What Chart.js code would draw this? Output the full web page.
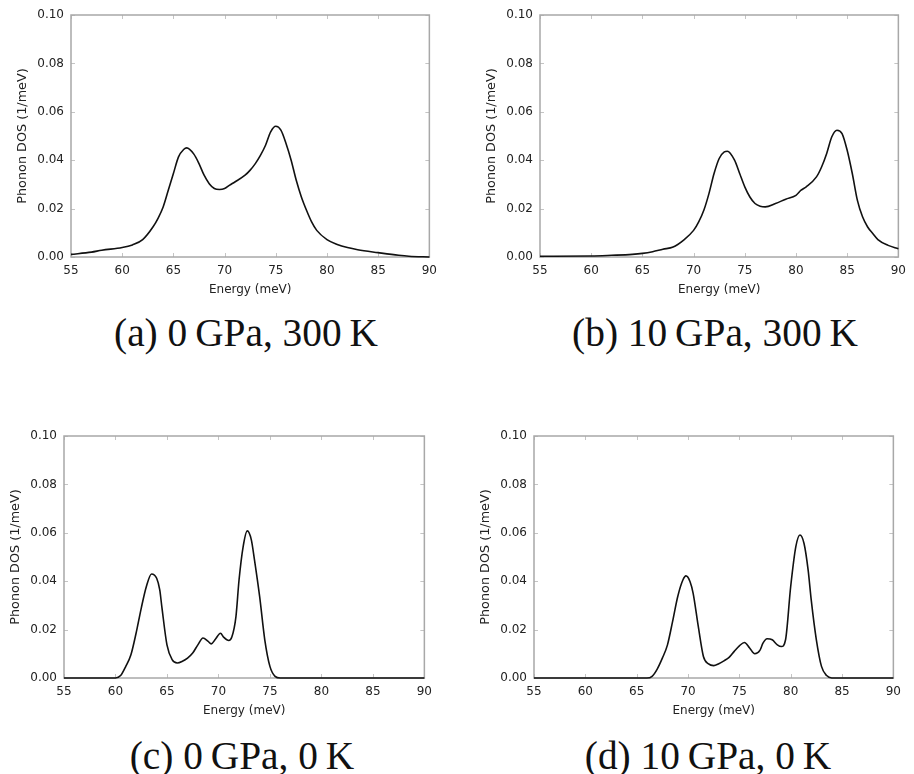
<!DOCTYPE html>
<html>
<head>
<meta charset="utf-8">
<title>Phonon DOS</title>
<script src="https://cdn.jsdelivr.net/npm/chart.js@4.4.1/dist/chart.umd.min.js"></script>
<style>
  body { margin: 0; background: #fff; width: 914px; height: 774px; position: relative; overflow: hidden; }
  canvas { position: absolute; }
  .caption {
    position: absolute; width: 400px; text-align: center; white-space: nowrap;
    font-family: "Liberation Serif", "Times New Roman", serif; font-size: 41px; line-height: 40px; color: #111;
    transform: scaleX(0.96);
  }
</style>
</head>
<body>
<canvas id="dosA" width="431" height="297" style="left:13px;top:0px"></canvas>
<canvas id="dosB" width="431" height="297" style="left:482px;top:0px"></canvas>
<canvas id="dosC" width="433" height="297" style="left:6px;top:421px"></canvas>
<canvas id="dosD" width="432" height="297" style="left:476px;top:421px"></canvas>

<div class="caption" style="left:46px;top:312px">(a) 0&thinsp;GPa, 300&thinsp;K</div>
<div class="caption" style="left:515px;top:312px">(b) 10&thinsp;GPa, 300&thinsp;K</div>
<div class="caption" style="left:42px;top:735px">(c) 0&thinsp;GPa, 0&thinsp;K</div>
<div class="caption" style="left:508px;top:735px">(d) 10&thinsp;GPa, 0&thinsp;K</div>

<script>
// axis ticks
const energyTicks = [55, 60, 65, 70, 75, 80, 85, 90];
const dosTicks = [0, 0.02, 0.04, 0.06, 0.08, 0.10];

// (a) 0 GPa, 300 K
const energyA = [55, 57, 58, 60, 61, 62, 63, 63.5, 64, 64.5, 65, 65.5, 66, 66.3, 67, 67.5, 68, 68.5, 69, 69.5,
  70, 70.5, 71, 72, 72.5, 73, 73.5, 74, 74.5, 75, 75.5, 76, 76.5, 77, 77.5, 78, 78.5, 79, 80, 81,
  82, 83, 85, 87, 88, 90];
const dosA = [0.0011, 0.002, 0.0028, 0.0039, 0.005, 0.0072, 0.0124, 0.016, 0.0207, 0.0276, 0.0345, 0.0414, 0.0444, 0.0451, 0.0425, 0.0386, 0.0338, 0.0303, 0.0283, 0.0279,
  0.0283, 0.0297, 0.031, 0.0338, 0.0359, 0.0386, 0.042, 0.0462, 0.0517, 0.054, 0.0524, 0.0469, 0.040, 0.0317, 0.0248, 0.0193, 0.0145, 0.011, 0.0072, 0.0052,
  0.0039, 0.003, 0.0018, 0.0007, 0.0003, 0.0];

// (b) 10 GPa, 300 K
const energyB = [55, 60, 62, 64, 65, 66, 67, 68, 69, 70, 70.5, 71, 71.5, 72, 72.5, 73, 73.3, 74, 74.5, 75,
  75.5, 76, 76.5, 77, 78, 79, 80, 80.5, 81, 82, 82.5, 83, 83.5, 84, 84.5, 85, 85.5, 86, 86.5, 87,
  87.5, 88, 89, 90];
const dosB = [0.0003, 0.0004, 0.0007, 0.0011, 0.0015, 0.0022, 0.0032, 0.0041, 0.0069, 0.011, 0.0145, 0.0193, 0.0262, 0.0345, 0.0407, 0.0434, 0.0437, 0.040, 0.0345, 0.029,
  0.0248, 0.0221, 0.021, 0.0207, 0.0221, 0.0239, 0.0255, 0.0276, 0.029, 0.0331, 0.0372, 0.0428, 0.0497, 0.0524, 0.051, 0.0441, 0.0345, 0.0234, 0.0166, 0.0124,
  0.0097, 0.0072, 0.0048, 0.0034];

// (c) 0 GPa, 0 K
const energyC = [55, 60, 60.5, 61, 61.5, 62, 62.5, 63, 63.5, 64, 64.3, 64.5, 65, 65.5, 66, 66.5, 67, 67.5, 68, 68.5,
  69, 69.3, 69.7, 70.2, 70.5, 71, 71.3, 71.7, 72, 72.4, 72.8, 73.2, 73.5, 74, 74.5, 75, 75.5, 76, 90];
const dosC = [0, 0, 0.001, 0.0048, 0.0096, 0.0185, 0.0288, 0.0378, 0.043, 0.0412, 0.0364, 0.0295, 0.0137, 0.0076, 0.0062, 0.0069, 0.0082, 0.0103, 0.0137, 0.0165,
  0.0151, 0.0141, 0.016, 0.0185, 0.0169, 0.0155, 0.0169, 0.0254, 0.0405, 0.0543, 0.0608, 0.057, 0.0488, 0.0337, 0.0158, 0.0048, 0.0007, 0, 0];

// (d) 10 GPa, 0 K
const energyD = [55, 66, 66.5, 67, 67.5, 68, 68.5, 69, 69.5, 69.8, 70.2, 70.5, 71, 71.5, 72, 72.5, 73, 73.5, 74, 74.5,
  75, 75.5, 76, 76.5, 77, 77.3, 77.7, 78.2, 78.7, 79.1, 79.5, 80, 80.5, 80.9, 81.3, 81.7, 82, 82.5, 83, 83.5,
  84, 90];
const dosD = [0, 0, 0.0007, 0.0037, 0.0082, 0.0137, 0.0234, 0.0337, 0.0405, 0.0422, 0.0398, 0.035, 0.0213, 0.0089, 0.0058, 0.0051, 0.0059, 0.0071, 0.0085, 0.011,
  0.0133, 0.0147, 0.0124, 0.01, 0.0114, 0.0144, 0.0162, 0.0158, 0.0137, 0.013, 0.0158, 0.0378, 0.0543, 0.0591, 0.0556, 0.0446, 0.0323, 0.0158, 0.0048, 0.001,
  0, 0];

const tickFont = { family: 'DejaVu Sans', size: 12 };
const yTitleFont = { family: 'DejaVu Sans', size: 12.8 };
const textColor = '#222';

// plot box plus the small inward tick marks on all four sides
const frame = {
  id: 'frame',
  beforeDatasetsDraw(chart) {
    const { ctx, chartArea: a, scales: { x, y } } = chart;
    ctx.save();
    ctx.strokeStyle = '#c4c4c4';
    ctx.lineWidth = 1;
    ctx.beginPath();
    x.ticks.forEach(t => {
      const px = Math.round(x.getPixelForValue(t.value)) + 0.5;
      ctx.moveTo(px, a.bottom); ctx.lineTo(px, a.bottom - 4);
      ctx.moveTo(px, a.top); ctx.lineTo(px, a.top + 4);
    });
    y.ticks.forEach(t => {
      const py = Math.round(y.getPixelForValue(t.value)) + 0.5;
      ctx.moveTo(a.left, py); ctx.lineTo(a.left + 4, py);
      ctx.moveTo(a.right, py); ctx.lineTo(a.right - 4, py);
    });
    ctx.stroke();
    ctx.strokeStyle = '#a8a8a8';
    ctx.lineWidth = 1.5;
    ctx.strokeRect(a.left, a.top, a.right - a.left, a.bottom - a.top);
    ctx.restore();
  }
};

function makePanel(id, energy, dos) {
  const points = energy.map((e, i) => ({ x: e, y: dos[i] }));
  return new Chart(document.getElementById(id), {
    type: 'line',
    data: {
      datasets: [{
        data: points,
        borderColor: '#111',
        borderWidth: 1.6,
        pointRadius: 0,
        fill: false,
        cubicInterpolationMode: 'monotone',
        clip: 4
      }]
    },
    options: {
      responsive: false,
      animation: false,
      layout: { padding: { top: 15, right: 10, left: 0, bottom: 0 } },
      plugins: { legend: { display: false }, tooltip: { enabled: false } },
      scales: {
        x: {
          type: 'linear', min: 55, max: 90,
          afterBuildTicks: s => { s.ticks = energyTicks.map(v => ({ value: v })); },
          afterFit: s => { s.height = 40; },
          grid: { display: false, drawTicks: false },
          border: { display: false },
          ticks: { font: tickFont, color: textColor, padding: 7, maxRotation: 0, callback: v => String(v) },
          title: { display: true, text: 'Energy (meV)', font: tickFont, color: textColor, padding: { top: 0, bottom: 0 } }
        },
        y: {
          type: 'linear', min: 0, max: 0.1,
          afterBuildTicks: s => { s.ticks = dosTicks.map(v => ({ value: v })); },
          afterFit: s => { s.width = 58; },
          grid: { display: false, drawTicks: false },
          border: { display: false },
          ticks: { font: tickFont, color: textColor, padding: 7, callback: v => v.toFixed(2) },
          title: { display: true, text: 'Phonon DOS (1/meV)', font: yTitleFont, color: textColor, padding: { top: 2, bottom: 0 } }
        }
      }
    },
    plugins: [frame]
  });
}

makePanel('dosA', energyA, dosA);
makePanel('dosB', energyB, dosB);
makePanel('dosC', energyC, dosC);
makePanel('dosD', energyD, dosD);
</script>
</body>
</html>
